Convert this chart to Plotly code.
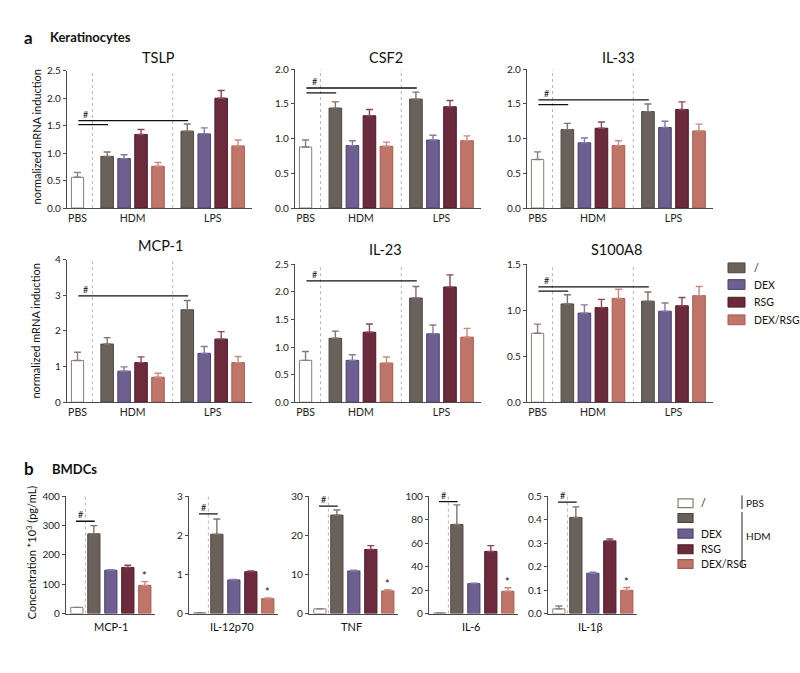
import plotly.graph_objects as go

W, H = 800, 673
FONT = "Lato"

# ---------------- Panel a : Keratinocytes (normalized mRNA induction) ----------------
a_genes = ["TSLP", "CSF2", "IL-33", "MCP-1", "IL-23", "S100A8"]
a_ymax = [2.5, 2.0, 2.0, 4, 2.5, 1.5]
a_dtick = [0.5, 0.5, 0.5, 1, 0.5, 0.5]
a_tickfmt = [".1f", ".1f", ".1f", "d", ".1f", ".1f"]
a_groups = ["PBS", "HDM", "LPS"]
treatments = ["/", "DEX", "RSG", "DEX/RSG"]

a_pbs = [0.56, 0.88, 0.70, 1.17, 0.76, 0.75]
a_pbs_sem = [0.09, 0.10, 0.11, 0.23, 0.16, 0.10]
a_hdm_none = [0.94, 1.44, 1.13, 1.63, 1.16, 1.07]
a_hdm_none_sem = [0.08, 0.09, 0.09, 0.18, 0.13, 0.10]
a_hdm_dex = [0.90, 0.90, 0.94, 0.87, 0.76, 0.97]
a_hdm_dex_sem = [0.07, 0.07, 0.07, 0.12, 0.10, 0.09]
a_hdm_rsg = [1.34, 1.33, 1.15, 1.11, 1.27, 1.03]
a_hdm_rsg_sem = [0.09, 0.09, 0.09, 0.16, 0.15, 0.09]
a_hdm_dexrsg = [0.76, 0.89, 0.90, 0.70, 0.71, 1.13]
a_hdm_dexrsg_sem = [0.07, 0.06, 0.07, 0.11, 0.11, 0.10]
a_lps_none = [1.40, 1.57, 1.39, 2.59, 1.89, 1.10]
a_lps_none_sem = [0.13, 0.10, 0.11, 0.26, 0.21, 0.10]
a_lps_dex = [1.35, 0.98, 1.16, 1.37, 1.24, 0.99]
a_lps_dex_sem = [0.11, 0.07, 0.09, 0.19, 0.16, 0.09]
a_lps_rsg = [2.00, 1.46, 1.42, 1.77, 2.09, 1.05]
a_lps_rsg_sem = [0.14, 0.09, 0.11, 0.21, 0.22, 0.09]
a_lps_dexrsg = [1.13, 0.97, 1.11, 1.11, 1.18, 1.16]
a_lps_dexrsg_sem = [0.11, 0.07, 0.10, 0.17, 0.16, 0.10]
a_sig_long = [1.59, 1.73, 1.56, 2.98, 2.20, 1.255]
a_sig_short = [1.52, 1.66, 1.49, None, None, 1.21]

# ---------------- Panel b : BMDCs (concentration) ----------------
b_cytokines = ["MCP-1", "IL-12p70", "TNF", "IL-6", "IL-1β"]
b_ymax = [400, 3, 30, 100, 0.5]
b_dtick = [100, 1, 10, 20, 0.1]
b_tickfmt = ["d", "d", "d", "d", ".1f"]
b_pbs = [21, 0.02, 1.2, 0.5, 0.02]
b_pbs_sem = [0, 0, 0, 0, 0.012]
b_hdm_none = [272, 2.03, 25.2, 76, 0.41]
b_hdm_none_sem = [28, 0.39, 1.3, 16.7, 0.045]
b_hdm_dex = [148, 0.86, 10.9, 25.5, 0.172]
b_hdm_dex_sem = [2, 0.01, 0.2, 0.5, 0.004]
b_hdm_rsg = [157, 1.07, 16.4, 53, 0.31]
b_hdm_rsg_sem = [8, 0.02, 1.0, 5, 0.008]
b_hdm_dexrsg = [96, 0.38, 5.8, 19, 0.099]
b_hdm_dexrsg_sem = [13, 0.02, 0.3, 3, 0.012]
b_sig = [315, 2.55, 27.5, 95.5, 0.475]

# ---------------- styles ----------------
COL = {"/": "#6a615b", "DEX": "#6d5f8f", "RSG": "#6b2b3d", "DEX/RSG": "#c07569"}
EDGE = {"/": "#4e4540", "DEX": "#4e4070", "RSG": "#4f1a2a", "DEX/RSG": "#a85a50"}
ERR = {"/": "#7d736d", "DEX": "#8579a5", "RSG": "#8a4757", "DEX/RSG": "#c98a80"}
PBS_EDGE = "#8a7c77"
AXC = "#4a4a4a"


def fx(p):
    return p / W


def fy(p):
    return 1 - p / H


fig = go.Figure()
layout = {}
shapes = []
anns = []


def axis_names(i):
    return ("xaxis" if i == 1 else f"xaxis{i}", "yaxis" if i == 1 else f"yaxis{i}",
            "x" if i == 1 else f"x{i}", "y" if i == 1 else f"y{i}")


def ybase(ymax, dtick, fmt, ydom):
    return dict(domain=ydom, range=[0, ymax], tick0=0, dtick=dtick, tickformat=fmt,
                showline=True, linecolor=AXC, linewidth=1.2, ticks="outside", ticklen=3,
                tickwidth=1, tickcolor=AXC, showgrid=False, zeroline=False,
                tickfont=dict(size=10, color="#222", family=FONT), fixedrange=True)


def add_bar(xr, yr, xs, ys, sems, fill, edge, errc, width):
    fig.add_trace(go.Bar(
        x=xs, y=ys, xaxis=xr, yaxis=yr, width=width, showlegend=False,
        marker=dict(color=fill, line=dict(color=edge, width=1)),
        error_y=dict(type="data", array=sems, arrayminus=[0] * len(sems), symmetric=False,
                     color=errc, thickness=1.4, width=3.5)))


# ----- panel a layout -----
a_xdom_px = [(67, 252), (295, 481), (527, 713)]
a_ytop_px = [65, 63.5, 63.5, 257.5, 262.5, 262.5]
a_ybot_px = [205, 205, 205, 403, 403, 403]
a_xrange = [-0.62, 10.3]
pbs_pos = 0
hdm_pos = [1.75, 2.75, 3.75, 4.75]
lps_pos = [6.48, 7.48, 8.48, 9.48]
label_pos = [0, 3.25, 7.98]
sep_pos = [0.88, 5.62]
title_px = [(158, 51), (386, 51), (618, 51), (160, 243), (385, 247), (616, 247)]

hdm_series = [a_hdm_none, a_hdm_dex, a_hdm_rsg, a_hdm_dexrsg]
hdm_sems = [a_hdm_none_sem, a_hdm_dex_sem, a_hdm_rsg_sem, a_hdm_dexrsg_sem]
lps_series = [a_lps_none, a_lps_dex, a_lps_rsg, a_lps_dexrsg]
lps_sems = [a_lps_none_sem, a_lps_dex_sem, a_lps_rsg_sem, a_lps_dexrsg_sem]

for g in range(6):
    i = g + 1
    xa, ya, xr, yr = axis_names(i)
    col = g % 3
    xd = a_xdom_px[col]
    layout[xa] = dict(domain=[fx(xd[0]), fx(xd[1])], range=a_xrange, anchor=yr,
                      showline=True, linecolor=AXC, linewidth=1.2, ticks="",
                      tickvals=label_pos, ticktext=a_groups, showgrid=False, zeroline=False,
                      tickfont=dict(size=10.5, color="#222", family=FONT), fixedrange=True)
    layout[ya] = ybase(a_ymax[g], a_dtick[g], a_tickfmt[g],
                       [fy(a_ybot_px[g]), fy(a_ytop_px[g])])
    layout[ya]["anchor"] = xr
    for s in sep_pos:
        shapes.append(dict(type="line", xref=xr, yref=yr, x0=s, x1=s, y0=0, y1=a_ymax[g],
                           line=dict(color="#b5b5b5", width=1, dash="dot"), layer="below"))
    add_bar(xr, yr, [pbs_pos], [a_pbs[g]], [a_pbs_sem[g]], "white", PBS_EDGE, PBS_EDGE, 0.72)
    for k, t in enumerate(treatments):
        add_bar(xr, yr, [hdm_pos[k], lps_pos[k]], [hdm_series[k][g], lps_series[k][g]],
                [hdm_sems[k][g], lps_sems[k][g]], COL[t], EDGE[t], ERR[t], 0.74)
    shapes.append(dict(type="line", xref=xr, yref=yr, x0=0.05, x1=lps_pos[0] + 0.05,
                       y0=a_sig_long[g], y1=a_sig_long[g], line=dict(color="#111", width=1.3)))
    if a_sig_short[g] is not None:
        shapes.append(dict(type="line", xref=xr, yref=yr, x0=0.05, x1=hdm_pos[0] + 0.05,
                           y0=a_sig_short[g], y1=a_sig_short[g],
                           line=dict(color="#111", width=1.3)))
    anns.append(dict(xref=xr, yref=yr, x=0.5, y=a_sig_long[g], text="#", showarrow=False,
                     yanchor="bottom", xanchor="center", yshift=-1,
                     font=dict(size=9, color="#111", family=FONT)))
    tx, ty = title_px[g]
    anns.append(dict(xref="paper", yref="paper", x=fx(tx), y=fy(ty), text=a_genes[g],
                     showarrow=False, xanchor="center", yanchor="middle",
                     font=dict(size=14.5, color="#111", family=FONT)))

# ----- panel b layout -----
b_xdom_px = [(66, 155), (189, 278), (309, 398), (429, 518), (548, 637)]
b_ydom_px = (499, 618.5)
b_xrange = [-0.64, 4.6]
b_pos = [1, 2, 3, 4]
b_label_px = [111, 232, 351, 471, 590]
b_series = [b_hdm_none, b_hdm_dex, b_hdm_rsg, b_hdm_dexrsg]
b_sems = [b_hdm_none_sem, b_hdm_dex_sem, b_hdm_rsg_sem, b_hdm_dexrsg_sem]

for c in range(5):
    i = 7 + c
    xa, ya, xr, yr = axis_names(i)
    xd = b_xdom_px[c]
    layout[xa] = dict(domain=[fx(xd[0]), fx(xd[1])], range=b_xrange, anchor=yr,
                      showline=True, linecolor=AXC, linewidth=1.2, ticks="",
                      showticklabels=False, showgrid=False, zeroline=False, fixedrange=True)
    layout[ya] = ybase(b_ymax[c], b_dtick[c], b_tickfmt[c], [fy(b_ydom_px[1]), fy(b_ydom_px[0])])
    layout[ya]["anchor"] = xr
    shapes.append(dict(type="line", xref=xr, yref=yr, x0=0.5, x1=0.5, y0=0, y1=b_ymax[c],
                       line=dict(color="#b5b5b5", width=1, dash="dot"), layer="below"))
    add_bar(xr, yr, [0], [b_pbs[c]], [b_pbs_sem[c]], "white", PBS_EDGE, PBS_EDGE, 0.72)
    for k, t in enumerate(treatments):
        add_bar(xr, yr, [b_pos[k]], [b_series[k][c]], [b_sems[k][c]],
                COL[t], EDGE[t], ERR[t], 0.72)
    shapes.append(dict(type="line", xref=xr, yref=yr, x0=-0.05, x1=1.05,
                       y0=b_sig[c], y1=b_sig[c], line=dict(color="#111", width=1.3)))
    anns.append(dict(xref=xr, yref=yr, x=0.2, y=b_sig[c], text="#", showarrow=False,
                     yanchor="bottom", xanchor="center", yshift=-1,
                     font=dict(size=9, color="#111", family=FONT)))
    anns.append(dict(xref=xr, yref=yr, x=4, y=b_hdm_dexrsg[c] + b_hdm_dexrsg_sem[c],
                     text="*", showarrow=False, yanchor="bottom", xanchor="center", yshift=-2,
                     font=dict(size=11, color="#111", family=FONT)))
    anns.append(dict(xref="paper", yref="paper", x=fx(b_label_px[c]), y=fy(632),
                     text=b_cytokines[c], showarrow=False, xanchor="center", yanchor="middle",
                     font=dict(size=11, color="#111", family=FONT)))

# ----- panel headers and axis titles -----
anns += [
    dict(xref="paper", yref="paper", x=fx(22), y=fy(31), text="<b>a</b>", showarrow=False,
         xanchor="left", yanchor="middle", font=dict(size=17, color="#111", family=FONT)),
    dict(xref="paper", yref="paper", x=fx(48), y=fy(31), text="<b>Keratinocytes</b>",
         showarrow=False, xanchor="left", yanchor="middle",
         font=dict(size=13, color="#111", family=FONT)),
    dict(xref="paper", yref="paper", x=fx(22), y=fy(471), text="<b>b</b>", showarrow=False,
         xanchor="left", yanchor="middle", font=dict(size=17, color="#111", family=FONT)),
    dict(xref="paper", yref="paper", x=fx(50), y=fy(471), text="<b>BMDCs</b>",
         showarrow=False, xanchor="left", yanchor="middle",
         font=dict(size=13, color="#111", family=FONT)),
    dict(xref="paper", yref="paper", x=fx(36), y=fy(133), text="normalized mRNA induction",
         showarrow=False, textangle=-90, xanchor="center", yanchor="middle",
         font=dict(size=11, color="#111", family=FONT)),
    dict(xref="paper", yref="paper", x=fx(36), y=fy(331), text="normalized mRNA induction",
         showarrow=False, textangle=-90, xanchor="center", yanchor="middle",
         font=dict(size=11, color="#111", family=FONT)),
    dict(xref="paper", yref="paper", x=fx(31), y=fy(556),
         text="Concentration *10<sup>3</sup> (pg/mL)",
         showarrow=False, textangle=-90, xanchor="center", yanchor="middle",
         font=dict(size=11, color="#111", family=FONT)),
]

# ----- legend a -----
leg_a_y = [266, 283, 301, 319]
for k, t in enumerate(treatments):
    y = leg_a_y[k]
    shapes.append(dict(type="rect", xref="paper", yref="paper", x0=fx(728), x1=fx(745),
                       y0=fy(y + 5), y1=fy(y - 5), fillcolor=COL[t],
                       line=dict(color=EDGE[t], width=1)))
    anns.append(dict(xref="paper", yref="paper", x=fx(752), y=fy(y), text=t, showarrow=False,
                     xanchor="left", yanchor="middle",
                     font=dict(size=10.5, color="#111", family=FONT)))

# ----- legend b -----
leg_b_y = [506, 521, 537, 553, 568]
leg_b_fill = ["white", COL["/"], COL["DEX"], COL["RSG"], COL["DEX/RSG"]]
leg_b_edge = [PBS_EDGE, EDGE["/"], EDGE["DEX"], EDGE["RSG"], EDGE["DEX/RSG"]]
leg_b_text = ["/", "", "DEX", "RSG", "DEX/RSG"]
for k in range(5):
    y = leg_b_y[k]
    shapes.append(dict(type="rect", xref="paper", yref="paper", x0=fx(678), x1=fx(693),
                       y0=fy(y + 4.5), y1=fy(y - 4.5), fillcolor=leg_b_fill[k],
                       line=dict(color=leg_b_edge[k], width=1.2)))
    if leg_b_text[k]:
        anns.append(dict(xref="paper", yref="paper", x=fx(699), y=fy(y), text=leg_b_text[k],
                         showarrow=False, xanchor="left", yanchor="middle",
                         font=dict(size=10.5, color="#111", family=FONT)))
shapes.append(dict(type="line", xref="paper", yref="paper", x0=fx(742), x1=fx(742),
                   y0=fy(498), y1=fy(512), line=dict(color="#222", width=1)))
shapes.append(dict(type="line", xref="paper", yref="paper", x0=fx(742), x1=fx(742),
                   y0=fy(515), y1=fy(571), line=dict(color="#222", width=1)))
anns.append(dict(xref="paper", yref="paper", x=fx(744), y=fy(506), text="PBS",
                 showarrow=False, xanchor="left", yanchor="middle",
                 font=dict(size=10, color="#111", family=FONT)))
anns.append(dict(xref="paper", yref="paper", x=fx(744), y=fy(539), text="HDM",
                 showarrow=False, xanchor="left", yanchor="middle",
                 font=dict(size=10, color="#111", family=FONT)))

fig.update_layout(
    width=W, height=H, margin=dict(l=0, r=0, t=0, b=0),
    paper_bgcolor="white", plot_bgcolor="white", barmode="overlay",
    showlegend=False, shapes=shapes, annotations=anns,
    font=dict(family=FONT, color="#111"), **layout)

fig.write_html("out.html", post_script="document.body.style.margin='0';",
               config={"displayModeBar": False})
